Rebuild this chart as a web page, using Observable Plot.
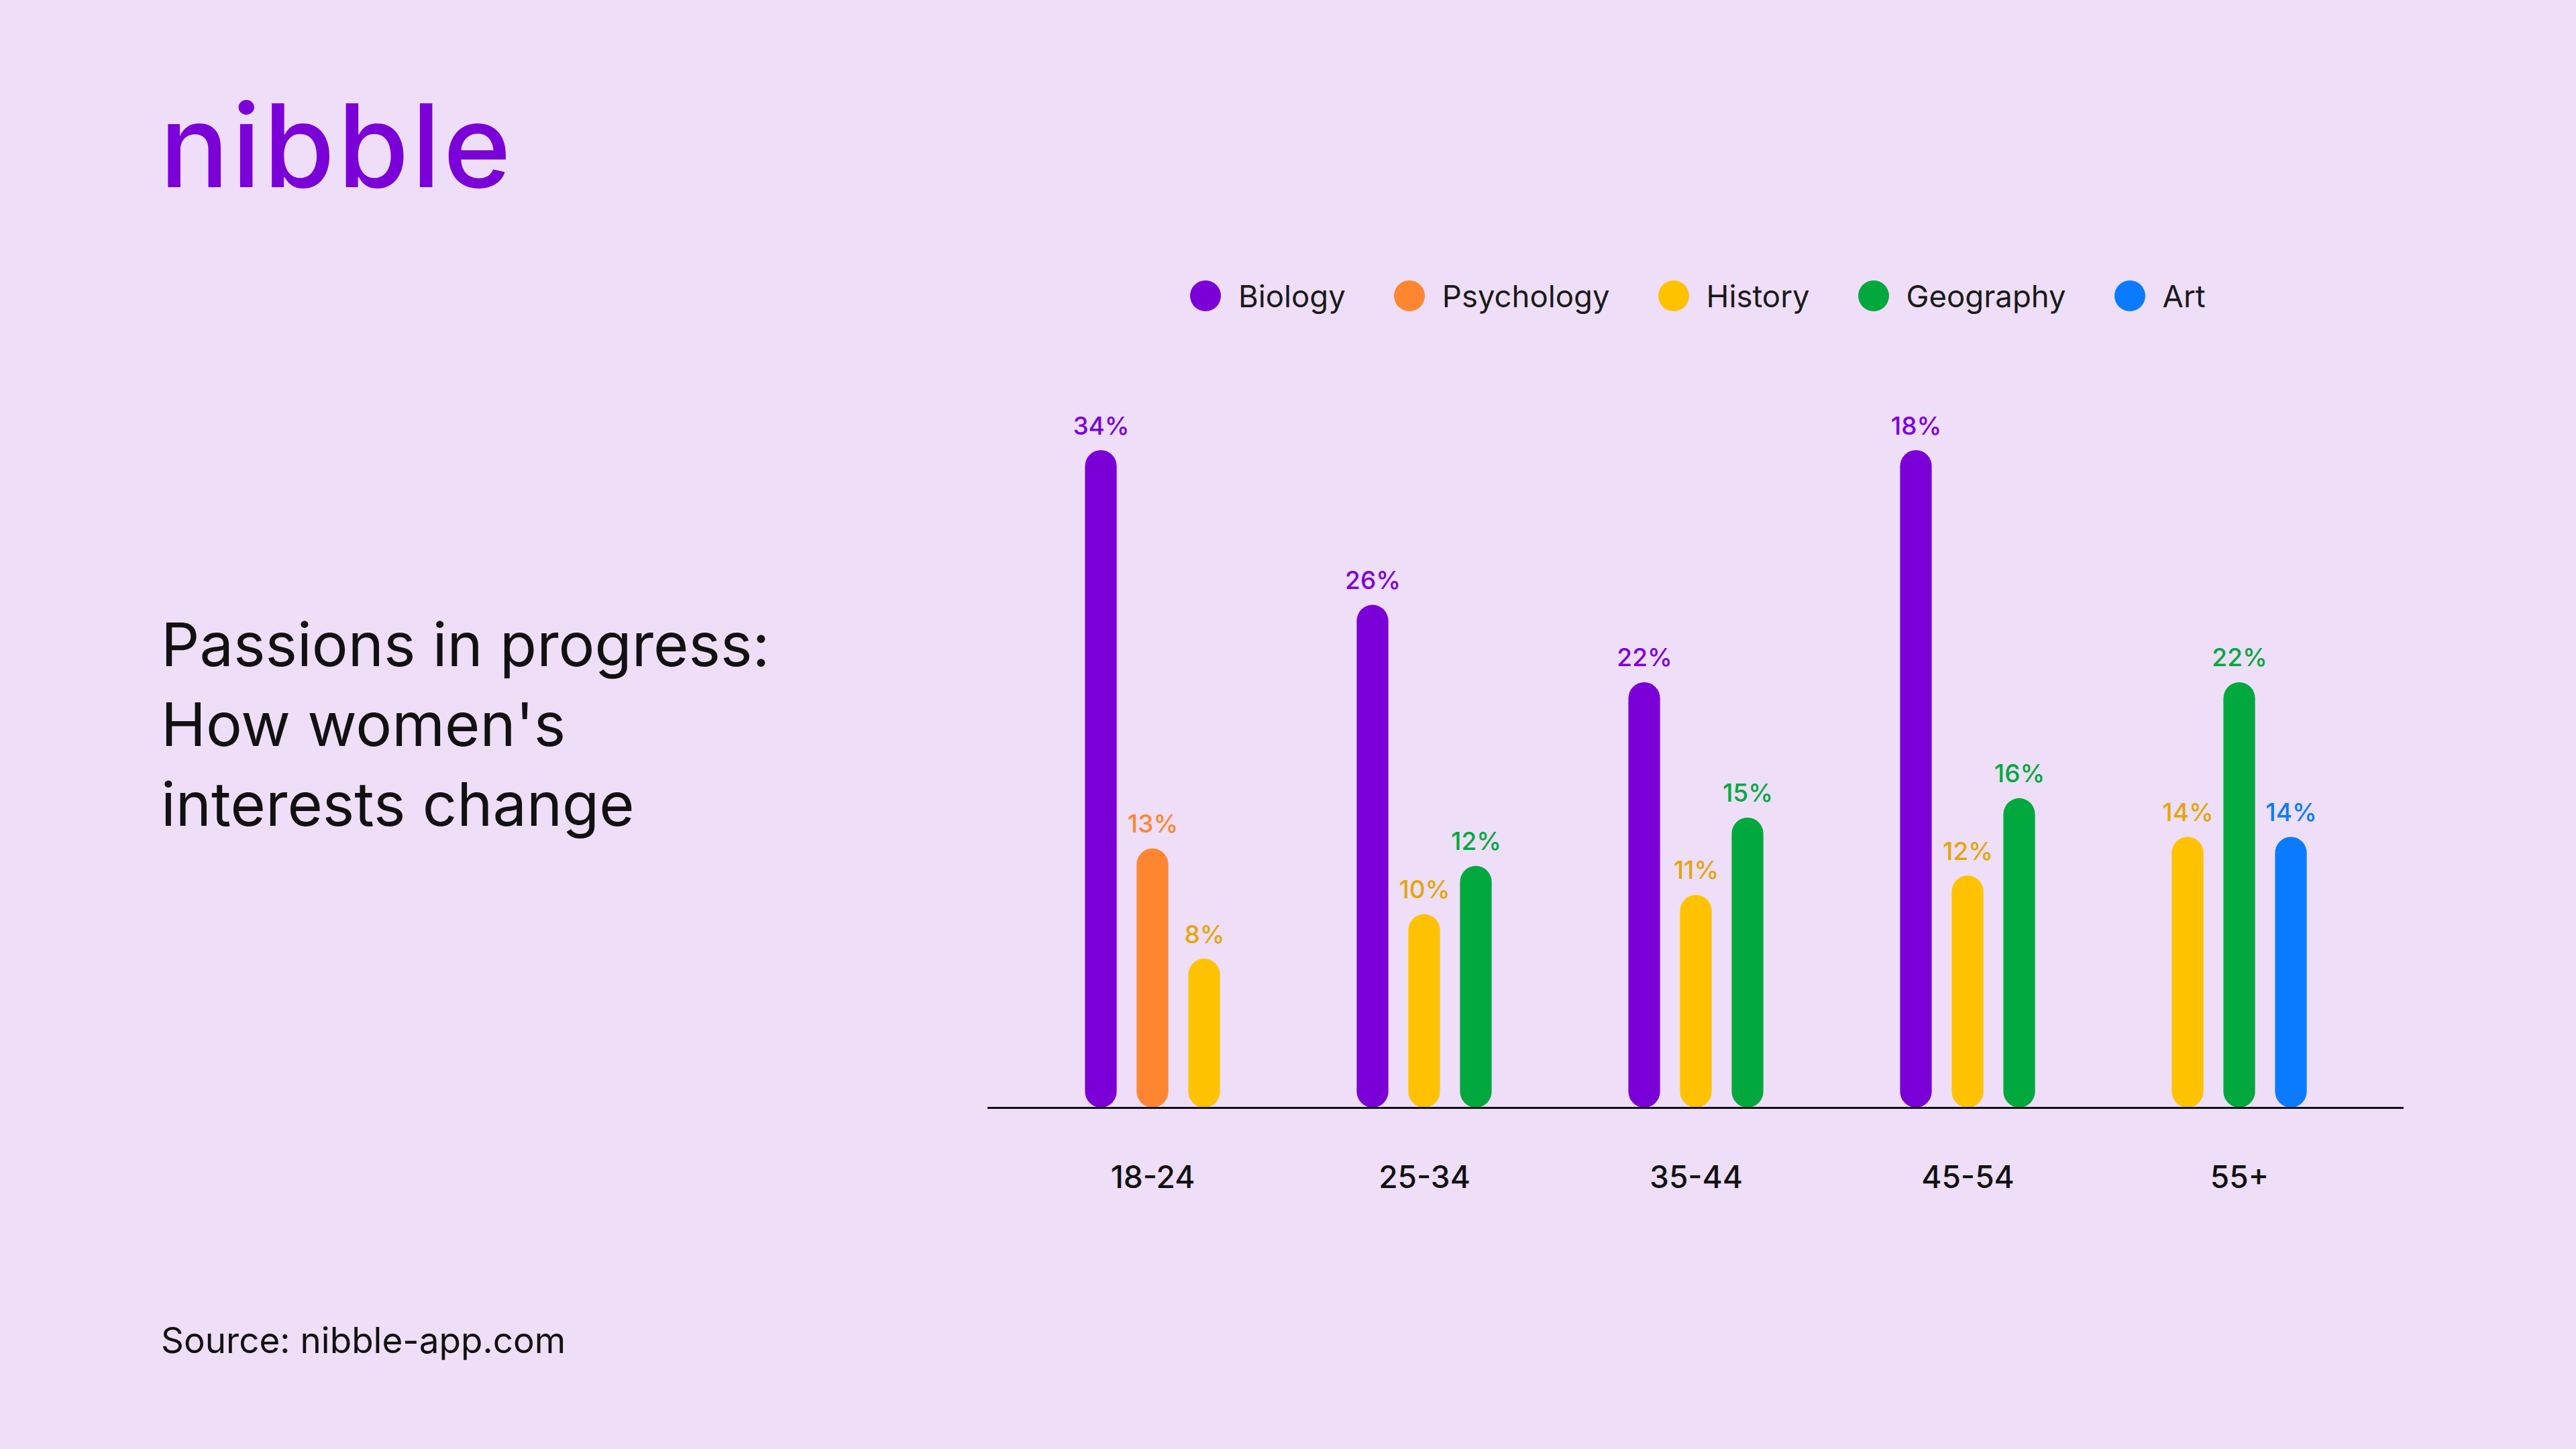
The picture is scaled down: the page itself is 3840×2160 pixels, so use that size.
<!DOCTYPE html>
<html>
<head>
<meta charset="utf-8">
<script src="https://cdn.jsdelivr.net/npm/d3@7"></script>
<script src="https://cdn.jsdelivr.net/npm/@observablehq/plot@0.6"></script>
<style>
  html, body { margin: 0; padding: 0; }
  body { width: 3840px; height: 2160px; background: #EEDEF8; font-family: Inter, "Noto Sans", sans-serif; position: relative; overflow: hidden; }
  #chart { position: absolute; left: 0; top: 0; }
  .logo { position: absolute; left: 238px; top: 130px; font-size: 172px; line-height: 1; font-weight: 500; color: #7B00D8; letter-spacing: 4px; }
  .title { position: absolute; left: 240px; top: 901px; font-size: 90px; line-height: 119px; color: #111; font-weight: 400; }
  .source { position: absolute; left: 240px; top: 1972px; font-size: 53px; line-height: 1; color: #111; }
  .legend { position: absolute; left: 1774px; top: 418px; height: 46px; display: flex; align-items: center; gap: 72px; font-size: 45.5px; color: #1a1a1a; }
  .legend .item { display: flex; align-items: center; gap: 26px; }
  .legend .sw { width: 46px; height: 46px; border-radius: 50%; display: inline-block; }
</style>
</head>
<body>
<div id="chart"></div>
<div class="logo">nibble</div>
<div class="title">Passions in progress:<br>How women's<br>interests change</div>
<div class="legend" id="legend"></div>
<div class="source">Source: nibble-app.com</div>
<script>
// ---- data ----
const groups = ["18-24", "25-34", "35-44", "45-54", "55+"];
const subjects = ["Biology", "Psychology", "History", "Geography", "Art"];
const barColors = ["#7B00D8", "#FF8630", "#FFC200", "#00A83E", "#0A7BFF"];
const labelColors = ["#7B00D8", "#FF8630", "#E3A60A", "#00A83E", "#0A7BFF"];

// bars in drawing order (three per age group)
const barGroup = ["18-24","18-24","18-24","25-34","25-34","25-34","35-44","35-44","35-44","45-54","45-54","45-54","55+","55+","55+"];
const barSubject = ["Biology","Psychology","History","Biology","History","Geography","Biology","History","Geography","Biology","History","Geography","History","Geography","Art"];
// bar heights as drawn in the picture (the 45-54 Biology bar is drawn as tall as the 34% bar)
const barHeight = [34, 13.4, 7.7, 26, 10, 12.5, 22, 11, 15, 34, 12, 16, 14, 22, 14];
// labels as printed above each bar
const barLabel = [34, 13, 8, 26, 10, 12, 22, 11, 15, 18, 12, 16, 14, 22, 14];

// ---- build table ----
const counter = {};
const data = barGroup.map((g, i) => {
  const slot = counter[g] = (counter[g] === undefined ? 0 : counter[g] + 1);
  return { group: g, subject: barSubject[i], slot, h: barHeight[i], label: barLabel[i] + "%" };
});

// ---- layout ----
const W = 3840, H = 2160;
const mL = 1472, mR = 257, mT = 671, mB = 509;
const xPad = 0.2;
const step = (W - mL - mR) / (groups.length - xPad + 2 * xPad);
const bandwidth = step * (1 - xPad);
const barW = 48, slotGap = 77;
const inset = (bandwidth - barW) / 2;

const marks = [];
subjects.forEach((s, si) => {
  [0, 1, 2].forEach(k => {
    const sub = data.filter(d => d.subject === s && d.slot === k);
    if (!sub.length) return;
    const dx = (k - 1) * slotGap;
    marks.push(Plot.barY(sub, {
      x: "group", y: "h", fill: barColors[si], dx,
      insetLeft: inset, insetRight: inset, rx: barW / 2, ry: barW / 2
    }));
    marks.push(Plot.text(sub, {
      x: "group", y: "h", text: "label", fill: labelColors[si], dx, dy: -24,
      lineAnchor: "bottom", fontSize: 37, fontWeight: 500
    }));
  });
});
marks.push(Plot.ruleY([0], { stroke: "#111", strokeWidth: 3 }));

const chart = Plot.plot({
  width: W, height: H,
  marginLeft: mL, marginRight: mR, marginTop: mT, marginBottom: mB,
  style: { background: "transparent", fontFamily: "Inter, sans-serif", fontSize: "46px", fontWeight: 500, color: "#111" },
  x: { domain: groups, padding: xPad, axis: "bottom", tickSize: 0, tickPadding: 87, label: null },
  y: { domain: [0, 34], axis: null },
  marks
});
document.getElementById("chart").appendChild(chart);

// ---- legend ----
const legend = document.getElementById("legend");
subjects.forEach((s, i) => {
  const item = document.createElement("div");
  item.className = "item";
  const sw = document.createElement("span");
  sw.className = "sw";
  sw.style.background = barColors[i];
  const t = document.createElement("span");
  t.textContent = s;
  item.appendChild(sw); item.appendChild(t);
  legend.appendChild(item);
});
</script>
</body>
</html>
